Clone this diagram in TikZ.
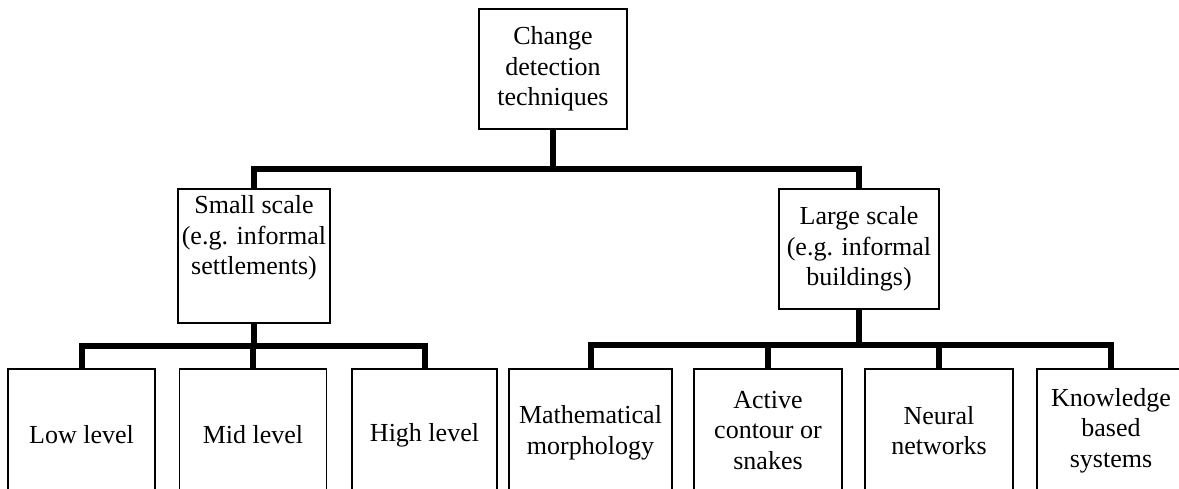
\documentclass[tikz,border=0pt]{standalone}
\usepackage{fontspec}
\setmainfont{Liberation Serif}
\begin{document}
\begin{tikzpicture}[x=1pt,y=-1pt,
  box/.style={draw, line width=1.6pt, rectangle, inner sep=0pt, align=center,
    font=\fontsize{26}{30.5}\selectfont},
  txt/.style={inner sep=0pt, align=center, font=\fontsize{26}{30.5}\selectfont},
  conn/.style={line width=6pt, line join=miter}]
\useasboundingbox (0,0) rectangle (1179,488);
\clip (0,0) rectangle (1179,488);
% top level
\node[box, minimum width=148pt, minimum height=120pt] (top) at (553,69) {Change\\detection\\techniques};
% second level
\node[box, minimum width=152pt, minimum height=134pt] (ss) at (254,256) {};
\node[txt] (sst) at (254,238) {Small scale\\(e.g. informal\\settlements)};
\node[box, minimum width=160pt, minimum height=120pt] (ls) at (859,249) {Large scale\\(e.g. informal\\buildings)};
% third level
\node[box, minimum width=147pt, minimum height=132pt] (low) at (81.5,435) {Low level};
\node[box, minimum width=147pt, minimum height=132pt] (mid) at (253,435) {Mid level};
\node[box, minimum width=145pt, minimum height=132pt] (high) at (424.5,435) {High level};
\node[box, minimum width=163pt, minimum height=128pt] (math) at (590.5,433) {Mathematical\\morphology};
\node[box, minimum width=148pt, minimum height=123pt] (act) at (768,430.5) {Active\\contour or\\snakes};
\node[box, minimum width=148pt, minimum height=123pt] (neur) at (939,430.5) {Neural\\networks};
\node[box, minimum width=148pt, minimum height=123pt] (know) at (1111,430.5) {Knowledge\\based\\systems};
% bus coordinates
\coordinate (b1) at (553,169);
\coordinate (b2) at (254,346);
\coordinate (b3) at (859,345);
% connectors
\draw[conn] (top.south) -- (b1);
\draw[conn] (ss.north) -- (ss.north |- b1) -- (ls.north |- b1) -- (ls.north);
\draw[conn] (ss.south) -- (b2);
\draw[conn] (low.north) -- (low.north |- b2) -- (high.north |- b2) -- (high.north);
\draw[conn] (mid.north) -- (mid.north |- b2);
\draw[conn] (ls.south) -- (b3);
\draw[conn] (math.north) -- (math.north |- b3) -- (know.north |- b3) -- (know.north);
\draw[conn] (act.north) -- (act.north |- b3);
\draw[conn] (neur.north) -- (neur.north |- b3);
\end{tikzpicture}
\end{document}
